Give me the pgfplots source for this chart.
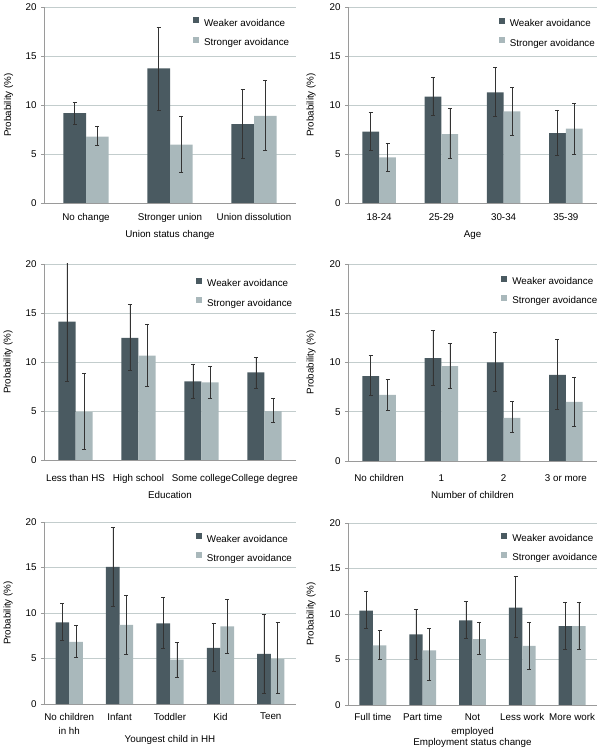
\documentclass[border=0pt]{standalone}
\usepackage{pgfplots}
\pgfplotsset{compat=1.18}
\usepackage{pgfplotstable}
\usepackage{fontspec}
\setmainfont{Liberation Sans}
\definecolor{dk}{HTML}{4A5A61}
\definecolor{lt}{HTML}{A9B8BB}
\definecolor{gridc}{HTML}{C3CDCD}
\definecolor{axc}{HTML}{9A9A9A}
\definecolor{errc}{HTML}{333333}
\newcommand{\fs}{\fontsize{9.8}{13.3}\selectfont}

% columns: x, weaker value, weaker low, weaker high, stronger value, stronger low, stronger high
\pgfplotstableread{
x w wl wh s sl sh
0 9.18 8.03 10.30 6.77 5.85 7.86
1 13.74 9.46 17.96 5.95 3.13 8.88
2 8.06 4.59 11.56 8.88 5.41 12.48
}\tA
\pgfplotstableread{
x w wl wh s sl sh
0 7.28 5.41 9.25 4.66 3.27 6.09
1 10.85 8.95 12.86 7.04 4.56 9.63
2 11.29 8.84 13.81 9.35 6.90 11.80
3 7.14 4.90 9.49 7.59 5.00 10.14
}\tB
\pgfplotstableread{
x w wl wh s sl sh
0 14.13 8.01 21.00 4.92 1.12 8.86
1 12.46 9.17 15.89 10.66 7.54 13.89
2 8.01 6.25 9.75 7.91 6.32 9.58
3 8.93 7.30 10.46 4.99 3.90 6.28
}\tC
\pgfplotstableread{
x w wl wh s sl sh
0 8.61 6.64 10.71 6.71 5.15 8.31
1 10.44 7.66 13.29 9.63 7.36 11.97
2 10.00 7.08 13.12 4.37 2.88 6.07
3 8.75 5.25 12.37 6.00 3.53 8.54
}\tD
\pgfplotstableread{
x w wl wh s sl sh
0 8.98 7.00 11.02 6.82 5.15 8.65
1 15.07 10.77 19.42 8.69 5.51 11.93
2 8.87 6.13 11.72 4.89 2.96 6.79
3 6.17 3.65 8.87 8.54 5.62 11.53
4 5.51 1.17 9.89 4.96 1.13 8.98
}\tE
\pgfplotstableread{
x w wl wh s sl sh
0 10.38 8.41 12.47 6.54 5.01 8.19
1 7.75 5.01 10.53 6.00 2.67 8.45
2 9.29 7.31 11.37 7.24 5.56 9.10
3 10.71 7.50 14.11 6.51 3.91 9.07
4 8.67 6.14 11.26 8.67 6.14 11.30
}\tF

\pgfplotsset{
  panel/.style={
    scale only axis, anchor=south west,
    ymin=0, ymax=20, ytick={0,5,10,15,20},
    axis x line*=bottom, axis y line*=left,
    axis line style={-, axc, line width=0.6pt},
    ymajorgrids, grid style={gridc, line width=0.6pt},
    tick align=outside, major tick length=3pt,
    ytick style={axc, line width=0.6pt},
    xtick style={draw=none},
    font=\fs, tick label style={font=\fs},
    /pgf/number format/assume math mode=true,
    yticklabel style={anchor=east, xshift=-1pt},
    ylabel={Probability (\%)},
    every axis y label/.style={at={(axis description cs:0,0.5)}, rotate=90, anchor=base, font=\fs},
    every axis x label/.style={at={(axis description cs:0.5,0)}, anchor=base, font=\fs},
    legend image code/.code={\fill[##1, draw=none] (0pt,0.5pt) rectangle (6pt,6.5pt);},
    legend cell align=left,
    legend style={draw=none, fill=none, anchor=north west, inner sep=0pt,
      row sep=8.2pt, column sep=5pt, font=\fs, xshift=-3pt,
      nodes={inner sep=0pt, text height=7pt, text depth=2pt}},
  },
  wk/.style={ybar, bar width=0.27, bar shift=0pt, fill=dk, draw=none,
    error bars/.cd, y dir=both, y explicit,
    error bar style={errc, line width=0.5pt},
    error mark options={errc, rotate=90, mark size=2pt, line width=0.5pt}},
  st/.style={ybar, bar width=0.27, bar shift=0pt, fill=lt, draw=none,
    error bars/.cd, y dir=both, y explicit,
    error bar style={errc, line width=0.5pt},
    error mark options={errc, rotate=90, mark size=2pt, line width=0.5pt}},
}
\newcommand{\wplot}[1]{\addplot[wk] table[x expr=\thisrow{x}-0.135, y=w, y error plus expr=\thisrow{wh}-\thisrow{w}, y error minus expr=\thisrow{w}-\thisrow{wl}] {#1};}
\newcommand{\splot}[1]{\addplot[st] table[x expr=\thisrow{x}+0.135, y=s, y error plus expr=\thisrow{sh}-\thisrow{s}, y error minus expr=\thisrow{s}-\thisrow{sl}] {#1};}

\begin{document}
\begin{tikzpicture}
\path[use as bounding box] (0pt,0pt) rectangle (601pt,750pt);

% Panel 1
\begin{axis}[panel, at={(44pt,547pt)}, width=252pt, height=196pt,
  xmin=-0.5, xmax=2.5, xtick={0,1,2},
  xticklabels={No change,Stronger union,Union dissolution},
  xticklabel style={anchor=base, yshift=-15pt},
  xlabel={Union status change}, xlabel style={yshift=-34.2pt},
  ylabel style={yshift=33pt},
  legend style={at={(axis description cs:0.603,1)}, yshift=-10.2pt}]
\wplot{\tA}
\splot{\tA}
\legend{Weaker avoidance,Stronger avoidance}
\end{axis}

% Panel 2
\begin{axis}[panel, at={(348pt,547pt)}, width=249pt, height=196pt,
  xmin=-0.5, xmax=3.5, xtick={0,1,2,3},
  xticklabels={18-24,25-29,30-34,35-39},
  xticklabel style={anchor=base, yshift=-15pt},
  xlabel={Age}, xlabel style={yshift=-34.5pt},
  ylabel style={yshift=34.5pt},
  legend style={at={(axis description cs:0.617,1)}, yshift=-10.7pt}]
\wplot{\tB}
\splot{\tB}
\legend{Weaker avoidance,Stronger avoidance}
\end{axis}

% Panel 3
\begin{axis}[panel, at={(44pt,290pt)}, width=252pt, height=196pt,
  xmin=-0.5, xmax=3.5, xtick={0,1,2,3},
  xticklabels={Less than HS,High school,Some college,College degree},
  xticklabel style={anchor=base, yshift=-18.5pt},
  xlabel={Education}, xlabel style={yshift=-38.5pt},
  ylabel style={yshift=33.5pt},
  legend style={at={(axis description cs:0.615,1)}, yshift=-13.8pt}]
\wplot{\tC}
\splot{\tC}
\legend{Weaker avoidance,Stronger avoidance}
\end{axis}

% Panel 4
\begin{axis}[panel, at={(348pt,289pt)}, width=249pt, height=197pt,
  xmin=-0.5, xmax=3.5, xtick={0,1,2,3},
  xticklabels={No children,1,2,3 or more},
  xticklabel style={anchor=base, yshift=-17.5pt},
  xlabel={Number of children}, xlabel style={yshift=-37.5pt},
  ylabel style={yshift=34.5pt},
  legend style={at={(axis description cs:0.627,1)}, yshift=-11.5pt}]
\wplot{\tD}
\splot{\tD}
\legend{Weaker avoidance,Stronger avoidance}
\end{axis}

% Panel 5
\begin{axis}[panel, at={(44pt,46pt)}, width=252pt, height=182pt,
  xmin=-0.5, xmax=4.5, xtick={0,1,2,3,4},
  xticklabels={{No children\\[1pt]in hh},Infant,Toddler,Kid,Teen},
  xticklabel style={anchor=north, align=center, inner sep=0pt, yshift=-5.8pt},
  xlabel={Youngest child in HH}, xlabel style={yshift=-38.5pt},
  ylabel style={yshift=33.5pt},
  legend style={at={(axis description cs:0.614,1)}, yshift=-10.8pt}]
\wplot{\tE}
\splot{\tE}
\legend{Weaker avoidance,Stronger avoidance}
\end{axis}

% Panel 6
\begin{axis}[panel, at={(348pt,45pt)}, width=249pt, height=182pt,
  xmin=-0.5, xmax=4.5, xtick={0,1,2,3,4},
  xticklabels={Full time,Part time,{Not\\[1pt]employed},Less work,More work},
  xticklabel style={anchor=north, align=center, inner sep=0pt, yshift=-5.2pt},
  xlabel={Employment status change}, xlabel style={yshift=-40pt},
  ylabel style={yshift=34.5pt},
  legend style={at={(axis description cs:0.627,1)}, yshift=-9.5pt}]
\wplot{\tF}
\splot{\tF}
\legend{Weaker avoidance,Stronger avoidance}
\end{axis}
\end{tikzpicture}
\end{document}
